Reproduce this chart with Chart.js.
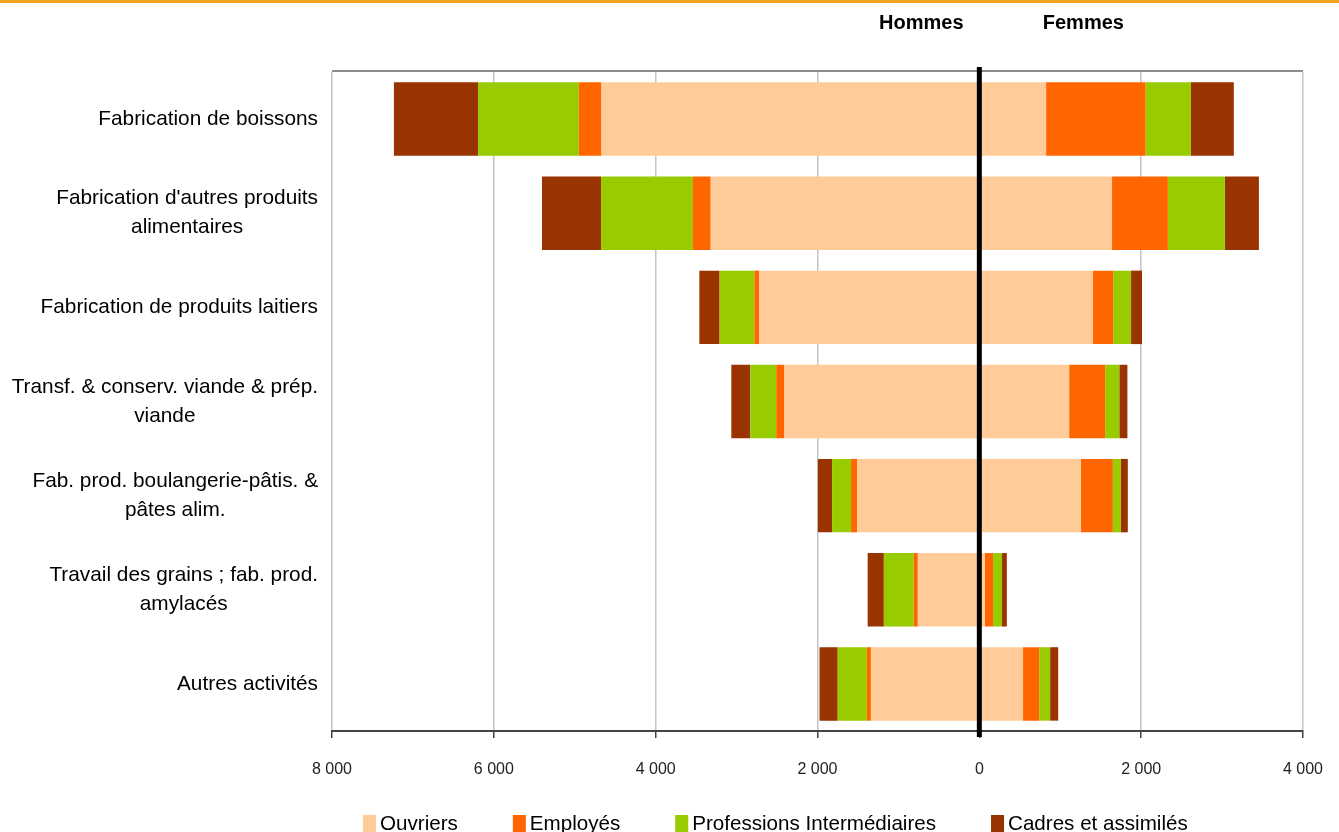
<html lang="fr">

<head>
    <meta charset="UTF-8" />
    <title>Effectifs par sexe et catégorie</title>
</head>
<style>
    body {
        margin: 0;
        overflow: hidden;
        background: #fff;
    }
</style>

<body>
<canvas id="myChart" width="1339" height="845"></canvas>

<script src="https://cdn.jsdelivr.net/npm/chart.js"></script>

<script>
    const categories = [
        'Fabrication de boissons',
        ["Fabrication d'autres produits", 'alimentaires'],
        'Fabrication de produits laitiers',
        ['Transf. & conserv. viande & prép.', 'viande'],
        ['Fab. prod. boulangerie-pâtis. &', 'pâtes alim.'],
        ['Travail des grains ; fab. prod.', 'amylacés'],
        'Autres activités'
    ];

    // hommes (affichés à gauche)
    const ouvriersH = [4670, 3320, 2720, 2410, 1510, 760, 1340];
    const employesH = [280, 220, 60, 100, 75, 50, 50];
    const intermH = [1245, 1135, 430, 320, 235, 370, 360];
    const cadresH = [1040, 730, 250, 235, 175, 200, 225];

    // femmes (affichées à droite)
    const ouvriersF = [825, 1640, 1405, 1110, 1255, 70, 540];
    const employesF = [1230, 690, 250, 445, 395, 100, 200];
    const intermF = [560, 705, 220, 175, 100, 110, 135];
    const cadresF = [530, 420, 135, 100, 85, 60, 100];

    const xTicks = [-8000, -6000, -4000, -2000, 0, 2000, 4000];

    const colors = {
        'Ouvriers': '#ffcc99',
        'Employés': '#ff6600',
        'Professions Intermédiaires': '#99cc00',
        'Cadres et assimilés': '#993300'
    };

    function fmt(v) {
        return Math.abs(v).toString().replace(/\B(?=(\d{3})+(?!\d))/g, ' ');
    }

    function ds(label, values, men) {
        return {
            label: label,
            data: men ? values.map(v => -v) : values,
            backgroundColor: colors[label],
            borderWidth: 0
        };
    }

    const fontFamily = '"Liberation Sans", Arial, sans-serif';

    // labels, legende, titres, ligne du zero
    const decor = {
        id: 'decor',
        beforeDraw(chart) {
            const c = chart.ctx;
            c.save();
            c.fillStyle = '#f2a51a';
            c.fillRect(0, 0, chart.width, 3);
            c.restore();
        },
        afterDatasetsDraw(chart) {
            const c = chart.ctx;
            const a = chart.chartArea;
            const x0 = chart.scales.x.getPixelForValue(0);
            c.save();
            // bord haut du cadre
            c.strokeStyle = '#8c8c8c';
            c.lineWidth = 2;
            c.beginPath();
            c.moveTo(a.left, a.top - 1);
            c.lineTo(a.right, a.top - 1);
            c.stroke();
            // axe vertical du zero
            c.strokeStyle = '#000';
            c.lineWidth = 5;
            c.beginPath();
            c.moveTo(x0, a.top - 5);
            c.lineTo(x0, a.bottom + 6);
            c.stroke();
            c.restore();
        },
        afterDraw(chart) {
            const c = chart.ctx;
            const a = chart.chartArea;
            const y = chart.scales.y;
            const x0 = chart.scales.x.getPixelForValue(0);
            c.save();

            // libelles des categories
            c.font = '20.8px ' + fontFamily;
            c.fillStyle = '#000';
            c.textAlign = 'center';
            c.textBaseline = 'middle';
            categories.forEach((lab, i) => {
                const lines = Array.isArray(lab) ? lab : [lab];
                const w = Math.max(...lines.map(l => c.measureText(l).width));
                const cx = a.left - 14 - w / 2;
                const cy = y.getPixelForValue(i);
                const lh = 29;
                lines.forEach((l, k) => {
                    c.fillText(l, cx, cy + (k - (lines.length - 1) / 2) * lh);
                });
            });

            // Hommes / Femmes
            c.font = 'bold 20px ' + fontFamily;
            c.fillText('Hommes', x0 - 58, 23);
            c.fillText('Femmes', x0 + 104, 23);

            // legende
            c.font = '20.6px ' + fontFamily;
            c.textAlign = 'left';
            let lx = 363;
            Object.keys(colors).forEach(name => {
                c.fillStyle = colors[name];
                c.fillRect(lx, 815, 13, 18);
                c.fillStyle = '#000';
                c.fillText(name, lx + 17, 824);
                lx += 17 + c.measureText(name).width + 55;
            });
            c.restore();
        }
    };

    const ctx = document.querySelector('#myChart');
    const myChart = new Chart(ctx, {
        type: 'bar',
        data: {
            labels: categories,
            datasets: [
                ds('Ouvriers', ouvriersH, true),
                ds('Ouvriers', ouvriersF, false),
                ds('Employés', employesH, true),
                ds('Employés', employesF, false),
                ds('Professions Intermédiaires', intermH, true),
                ds('Professions Intermédiaires', intermF, false),
                ds('Cadres et assimilés', cadresH, true),
                ds('Cadres et assimilés', cadresF, false)
            ]
        },
        options: {
            indexAxis: 'y',
            responsive: false,
            animation: false,
            layout: {
                padding: { left: 332, right: 36, top: 72, bottom: 0 }
            },
            datasets: {
                bar: { categoryPercentage: 1, barPercentage: 0.78 }
            },
            plugins: {
                legend: { display: false },
                tooltip: { enabled: false }
            },
            scales: {
                x: {
                    stacked: true,
                    min: -8000,
                    max: 4000,
                    afterBuildTicks: s => { s.ticks = xTicks.map(v => ({ value: v })); },
                    afterFit: s => {
                        s.height = 114;
                        s.paddingLeft = 0;
                        s.paddingRight = 0;
                    },
                    grid: {
                        color: '#c4c4c4',
                        lineWidth: 1.5,
                        tickColor: '#444',
                        tickLength: 7
                    },
                    border: { color: '#444', width: 2 },
                    ticks: {
                        padding: 22,
                        color: '#222',
                        font: { size: 16, family: fontFamily },
                        maxRotation: 0,
                        callback: v => fmt(v)
                    }
                },
                y: {
                    stacked: true,
                    display: false
                }
            }
        },
        plugins: [decor]
    });
</script>
</body>

</html>
